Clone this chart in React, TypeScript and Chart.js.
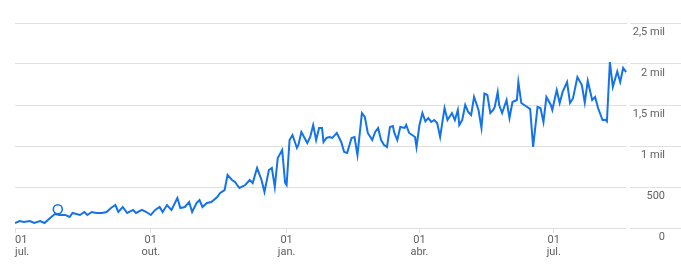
import React, { useEffect, useRef } from "react";
import { Chart, registerables } from "chart.js";

Chart.register(...registerables);

// Day offsets from 1 July (first year) and daily visits
const days = [0, 3, 6, 10, 13, 17, 20, 23, 27, 30, 34, 37, 39, 44, 47, 49, 52, 55, 59, 62, 65, 68, 70, 73, 76, 80, 82, 86, 89, 92, 95, 98, 100, 103, 106, 110, 112, 115, 118, 120, 123, 125, 127, 130, 133, 137, 139, 142, 144, 147, 149, 152, 156, 159, 161, 164, 167, 169, 172, 174, 176, 178, 181, 183, 184, 186, 188, 191, 192, 194, 198, 200, 202, 204, 206, 208, 209, 211, 213, 215, 218, 221, 223, 225, 228, 230, 232, 235, 237, 239, 242, 244, 246, 248, 250, 252, 254, 256, 257, 259, 261, 264, 265, 267, 271, 272, 274, 276, 278, 280, 282, 284, 286, 288, 291, 293, 296, 298, 300, 301, 303, 305, 307, 309, 311, 314, 316, 318, 320, 322, 324, 325, 327, 328, 330, 333, 335, 337, 340, 341, 343, 347, 349, 351, 354, 356, 358, 360, 363, 364, 367, 369, 371, 374, 376, 378, 381, 384, 386, 388, 391, 393, 395, 398, 400, 401, 403, 405, 408, 410, 412, 414];
const visits = [61, 85, 73, 85, 61, 85, 61, 110, 170, 159, 159, 134, 183, 159, 195, 159, 195, 183, 183, 195, 244, 280, 195, 256, 183, 220, 183, 220, 195, 159, 220, 256, 195, 280, 220, 366, 244, 256, 317, 195, 305, 341, 256, 305, 317, 378, 427, 463, 646, 585, 561, 488, 524, 585, 549, 732, 585, 439, 707, 732, 500, 854, 951, 549, 524, 1073, 1134, 976, 1012, 1171, 1037, 1110, 1256, 1073, 1220, 1220, 1049, 1098, 1110, 1098, 1159, 1049, 927, 915, 1098, 1110, 890, 1402, 1354, 1159, 1073, 1171, 1220, 1073, 1012, 988, 1232, 1244, 1159, 1073, 1232, 1220, 1256, 1159, 1110, 988, 1256, 1402, 1300, 1341, 1293, 1317, 1280, 1110, 1463, 1317, 1402, 1317, 1439, 1256, 1317, 1500, 1415, 1378, 1600, 1439, 1220, 1640, 1622, 1402, 1439, 1476, 1658, 1500, 1402, 1561, 1341, 1537, 1561, 1780, 1524, 1476, 1450, 988, 1476, 1463, 1293, 1598, 1500, 1439, 1683, 1524, 1660, 1780, 1524, 1580, 1841, 1744, 1530, 1795, 1560, 1598, 1463, 1317, 1320, 1300, 2024, 1720, 1910, 1780, 1951, 1902];

// Annotation marker
const markerDays = [29];
const markerValues = [228];

// X tick labels
const xTickDays = [0, 92, 184, 274, 365];
const xTickDayLabels = ["01", "01", "01", "01", "01"];
const xTickMonthLabels = ["jul.", "out.", "jan.", "abr.", "jul."];

// Y tick labels
const yTickValues = [0, 500, 1000, 1500, 2000, 2500];
const yTickLabels = ["0", "500", "1 mil", "1,5 mil", "2 mil", "2,5 mil"];

const BLUE = "#1473e6";
const GRID = "#e0e0e0";
const TEXT = "#616161";
const FONT = "Roboto";

const labelPlugin = {
  id: "axisLabels",
  afterDraw(chart: any) {
    const ctx = chart.ctx;
    const xs = chart.scales.x;
    const ys = chart.scales.y;
    const area = chart.chartArea;
    ctx.save();
    ctx.font = `11px ${FONT}`;
    ctx.fillStyle = TEXT;
    ctx.textBaseline = "middle";
    ctx.textAlign = "left";
    xTickDays.forEach((d, i) => {
      const px = xs.getPixelForValue(d);
      const lines = [xTickDayLabels[i], xTickMonthLabels[i]];
      lines.forEach((t, j) => {
        const w = ctx.measureText(t).width;
        let left = px - w / 2;
        if (left < area.left) left = area.left;
        ctx.fillText(t, left, area.bottom + 12 + j * 12.5);
      });
    });
    ctx.textAlign = "right";
    yTickValues.forEach((v, i) => {
      const py = ys.getPixelForValue(v);
      ctx.fillText(yTickLabels[i], area.right + 38, py + 9);
    });
    ctx.restore();
  },
};

export default function App() {
  const ref = useRef<HTMLCanvasElement | null>(null);
  useEffect(() => {
    if (!ref.current) return;
    const chart = new Chart(ref.current, {
      type: "line",
      data: {
        datasets: [
          {
            data: markerDays.map((d, i) => ({ x: d, y: markerValues[i] })),
            borderColor: BLUE,
            backgroundColor: "#ffffff",
            pointRadius: 4.5,
            pointBorderWidth: 1.6,
            showLine: false,
            order: 0,
          },
          {
            data: days.map((d, i) => ({ x: d, y: visits[i] })),
            borderColor: BLUE,
            borderWidth: 2,
            pointRadius: 0,
            tension: 0,
            fill: false,
            order: 1,
          },
        ],
      },
      options: {
        animation: false,
        responsive: false,
        events: [],
        layout: { padding: { left: 15, top: 23, right: 0, bottom: 0 } },
        plugins: { legend: { display: false }, tooltip: { enabled: false } },
        scales: {
          x: {
            type: "linear",
            min: 0,
            max: 414.6,
            border: { display: false },
            grid: {
              display: true,
              drawOnChartArea: false,
              drawTicks: true,
              tickLength: 5,
              color: GRID,
            },
            ticks: { display: false },
            afterBuildTicks: (scale: any) => {
              scale.ticks = xTickDays.map((v) => ({ value: v }));
            },
            afterFit: (scale: any) => {
              scale.height = 37;
            },
          },
          y: {
            position: "right",
            min: 0,
            max: 2500,
            border: { display: false },
            grid: {
              color: GRID,
              drawTicks: true,
              tickLength: 54,
              tickBorderDash: [0, 3, 80],
              tickColor: GRID,
            },
            afterBuildTicks: (scale: any) => {
              scale.ticks = yTickValues.map((v) => ({ value: v }));
            },
            ticks: { display: false },
            afterFit: (scale: any) => {
              scale.width = 54;
            },
          },
        },
      },
      plugins: [labelPlugin],
    });
    return () => chart.destroy();
  }, []);
  return (
    <div style={{ position: "fixed", left: 0, top: 0, width: 681, height: 265, background: "#fff" }}>
      <canvas ref={ref} width={681} height={265} style={{ width: 681, height: 265, display: "block" }} />
    </div>
  );
}
